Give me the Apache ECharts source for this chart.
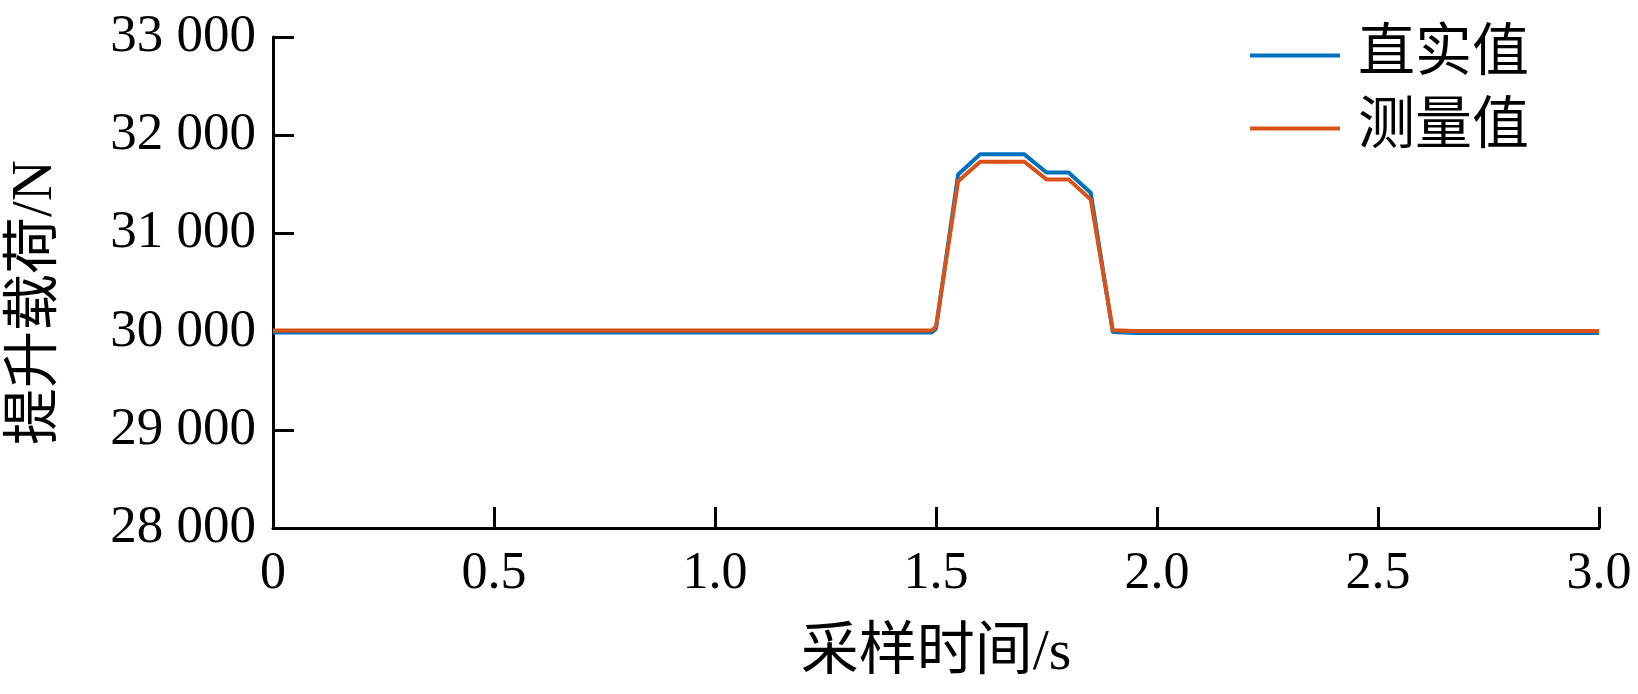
<!DOCTYPE html>
<html>
<head>
<meta charset="utf-8">
<script src="https://cdn.jsdelivr.net/npm/echarts@6/dist/echarts.min.js"></script>
<style>
html,body{margin:0;padding:0;background:#fff;}
#chart{width:1638px;height:694px;}
</style>
</head>
<body>
<div id="chart"></div>
<script>
// Sampling time (s)
var times = [0, 0.25, 0.5, 0.75, 1.0, 1.25, 1.45, 1.49, 1.5, 1.55, 1.6, 1.65, 1.7, 1.75, 1.8, 1.85, 1.9, 1.95, 2.0, 2.25, 2.5, 2.75, 3.0];
// True value (N)
var trueValues = [29990, 29990, 29990, 29990, 29990, 29990, 29990, 29990, 30030, 31600, 31805, 31805, 31805, 31620, 31620, 31415, 29995, 29985, 29985, 29985, 29985, 29985, 29985];
// Measured value (N)
var measuredValues = [30010, 30010, 30010, 30010, 30010, 30010, 30010, 30010, 30050, 31530, 31730, 31730, 31730, 31550, 31550, 31345, 30015, 30005, 30005, 30005, 30005, 30005, 30005];
var seriesNames = ['直实值', '测量值'];
var seriesColors = ['#0072BD', '#D95319'];
var yTicks = {min: 28000, max: 33000, interval: 1000};
var xTicks = {min: 0, max: 3, interval: 0.5};

function pairs(xs, ys) { return xs.map(function (x, i) { return [x, ys[i]]; }); }

var FONT = "'Liberation Serif', 'Noto Sans CJK SC', serif";
var chart = echarts.init(document.getElementById('chart'));
chart.setOption({
  animation: false,
  backgroundColor: '#ffffff',
  grid: {left: 272, right: 39, top: 37, bottom: 166, containLabel: false},
  legend: {
    orient: 'vertical',
    left: 1245,
    top: 22,
    data: seriesNames,
    icon: 'rect',
    itemWidth: 90,
    itemHeight: 4,
    itemGap: 16,
    textStyle: {fontFamily: FONT, fontSize: 57, color: '#000', padding: [0, 0, 0, 13]}
  },
  xAxis: {
    type: 'value',
    min: xTicks.min, max: xTicks.max, interval: xTicks.interval,
    name: '采样时间/s',
    nameLocation: 'middle',
    nameGap: 97,
    nameTextStyle: {fontFamily: FONT, fontSize: 58, color: '#000'},
    axisLine: {show: true, onZero: false, lineStyle: {color: '#000', width: 3}},
    axisTick: {show: true, inside: true, length: 21, lineStyle: {color: '#000', width: 3}},
    axisLabel: {
      fontFamily: FONT, fontSize: 52, color: '#000', margin: 20,
      formatter: function (v) { return v === 0 ? '0' : v.toFixed(1); }
    },
    splitLine: {show: false}
  },
  yAxis: {
    type: 'value',
    min: yTicks.min, max: yTicks.max, interval: yTicks.interval,
    name: '提升载荷/N',
    nameLocation: 'middle',
    nameGap: 208,
    nameTextStyle: {fontFamily: FONT, fontSize: 57, color: '#000', padding: [0, 40, 0, 0]},
    axisLine: {show: true, lineStyle: {color: '#000', width: 3}},
    axisTick: {show: true, inside: true, length: 21, lineStyle: {color: '#000', width: 3}},
    axisLabel: {
      fontFamily: FONT, fontSize: 53, color: '#000', margin: 17,
      formatter: function (v) { var s = String(v); return s.slice(0, s.length - 3) + ' ' + s.slice(-3); }
    },
    splitLine: {show: false}
  },
  series: [
    {
      name: seriesNames[0], type: 'line', data: pairs(times, trueValues),
      showSymbol: false, symbol: 'none',
      lineStyle: {color: seriesColors[0], width: 4},
      itemStyle: {color: seriesColors[0]}
    },
    {
      name: seriesNames[1], type: 'line', data: pairs(times, measuredValues),
      showSymbol: false, symbol: 'none',
      lineStyle: {color: seriesColors[1], width: 4},
      itemStyle: {color: seriesColors[1]}
    }
  ]
});
</script>
</body>
</html>
